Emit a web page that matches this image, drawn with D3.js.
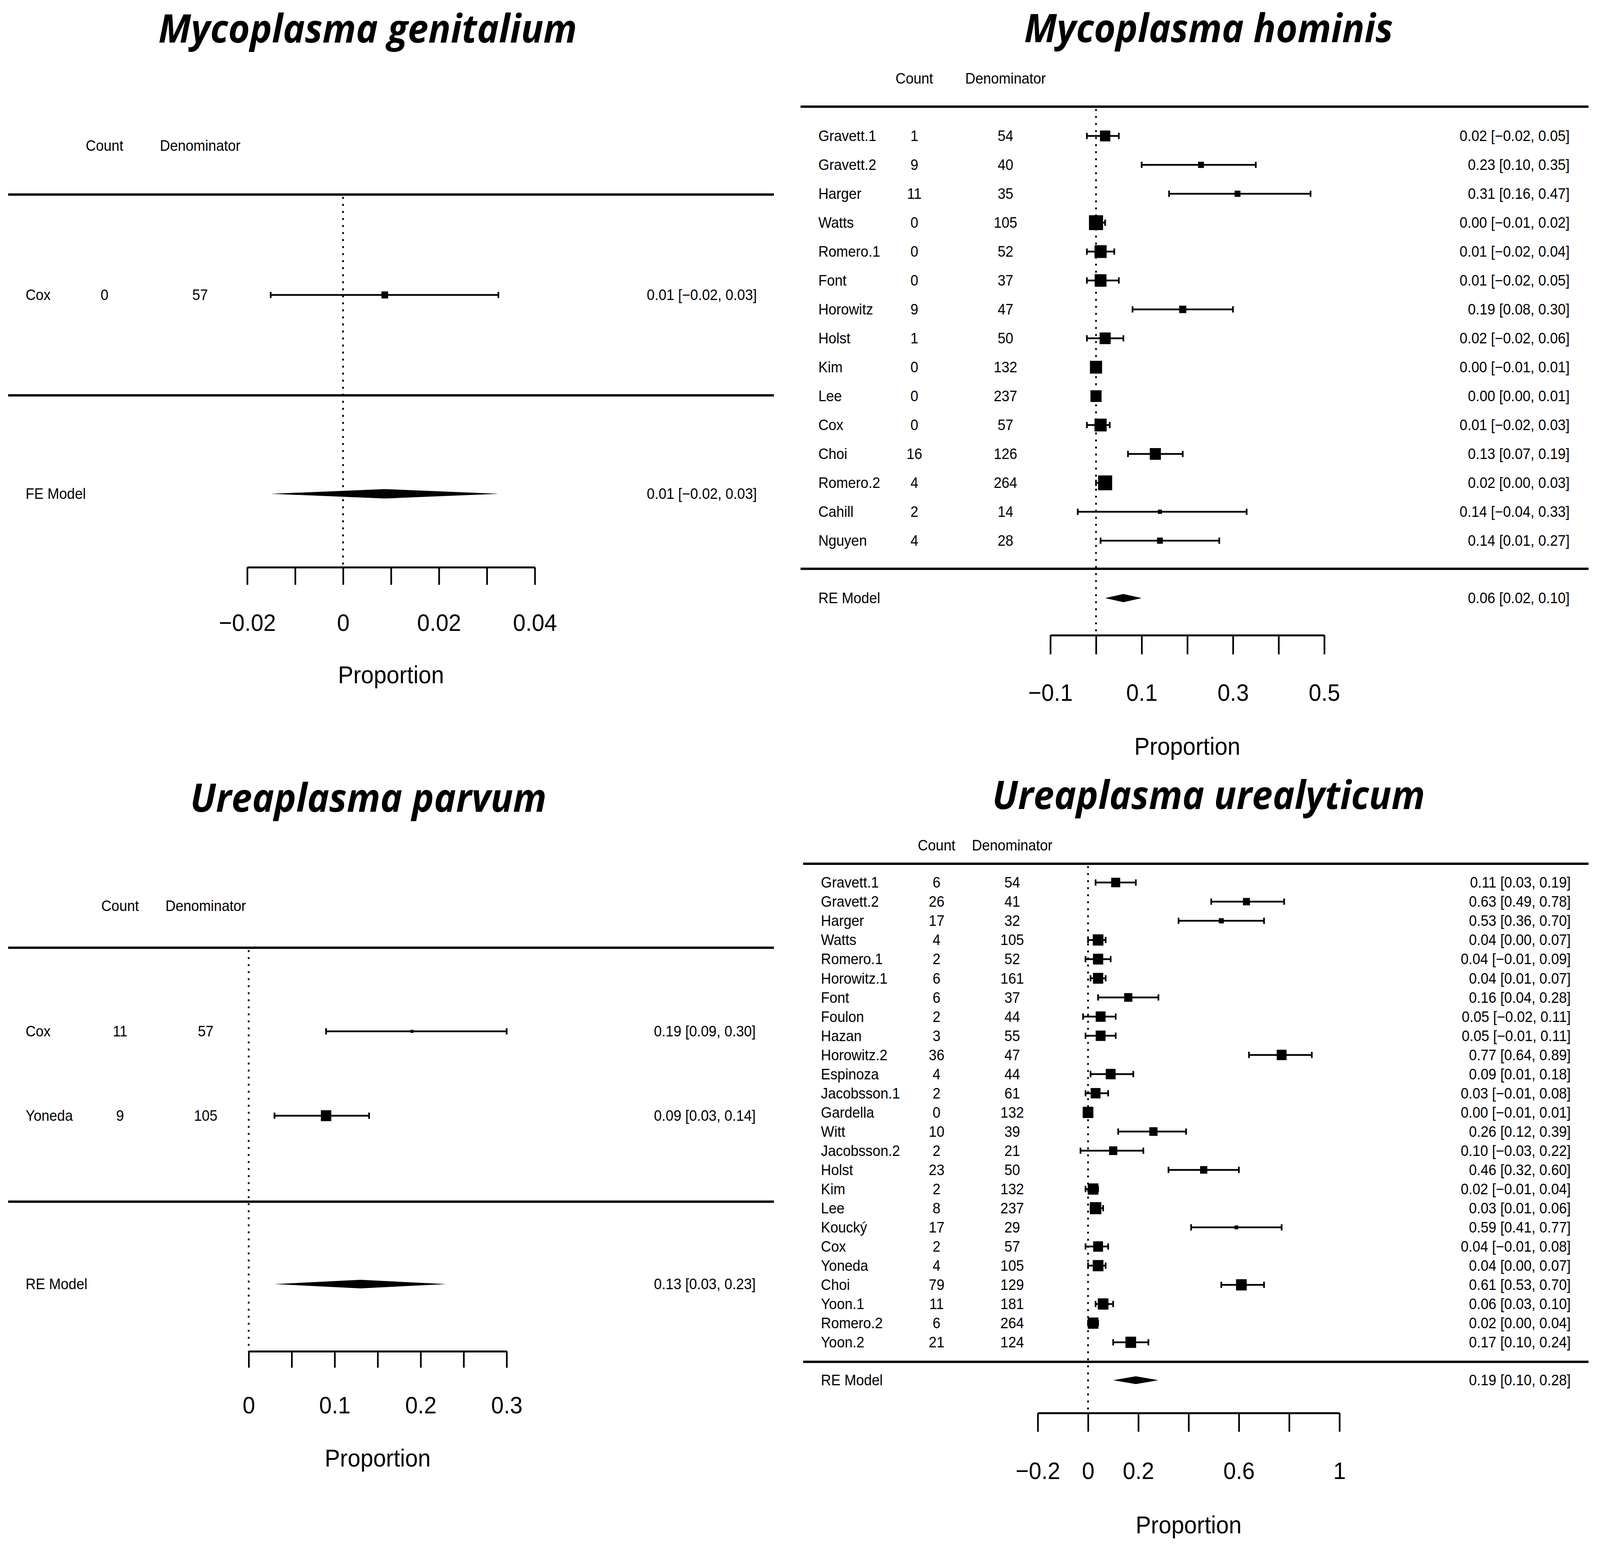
<!DOCTYPE html>
<html>
<head>
<meta charset="utf-8">
<script src="https://cdn.jsdelivr.net/npm/d3@7"></script>
<style>
  html, body { margin: 0; padding: 0; background: #fff; overflow: hidden; }
  #chart { display: block; width: 100vw; height: 100vh; }
  text { font-family: "Liberation Sans", Arial, sans-serif; fill: #000; }
  .title { font-family: "Open Sans", sans-serif; font-weight: 700; font-style: italic; }
</style>
</head>
<body>
<svg id="chart"></svg>
<script>
// ---- Mycoplasma genitalium ----
var mgStudies = ["Cox"],
    mgCount = [0],
    mgDenom = [57],
    mgEst = [0.0087],
    mgLo = [-0.0151],
    mgHi = [0.0324],
    mgWeight = [100],
    mgModel = ["FE Model", 0.0087, -0.0151, 0.0324],
    mgTicks = [-0.02, -0.01, 0, 0.01, 0.02, 0.03, 0.04],
    mgTickLabels = ["\u22120.02", "", "0", "", "0.02", "", "0.04"];

// ---- Mycoplasma hominis ----
var mhStudies = ["Gravett.1", "Gravett.2", "Harger", "Watts", "Romero.1", "Font", "Horowitz", "Holst",
                 "Kim", "Lee", "Cox", "Choi", "Romero.2", "Cahill", "Nguyen"],
    mhCount = [1, 9, 11, 0, 0, 0, 9, 1, 0, 0, 0, 16, 4, 2, 4],
    mhDenom = [54, 40, 35, 105, 52, 37, 47, 50, 132, 237, 57, 126, 264, 14, 28],
    mhEst = [0.02, 0.23, 0.31, 0.00, 0.01, 0.01, 0.19, 0.02, 0.00, 0.00, 0.01, 0.13, 0.02, 0.14, 0.14],
    mhLo = [-0.02, 0.10, 0.16, -0.01, -0.02, -0.02, 0.08, -0.02, -0.01, -0.002, -0.02, 0.07, 0.00, -0.04, 0.01],
    mhHi = [0.05, 0.35, 0.47, 0.02, 0.04, 0.05, 0.30, 0.06, 0.01, 0.01, 0.03, 0.19, 0.03, 0.33, 0.27],
    mhWeight = [7.0, 4.0, 4.0, 9.5, 8.2, 8.0, 4.8, 7.5, 8.2, 7.5, 8.2, 7.5, 9.5, 2.8, 4.0],
    mhModel = ["RE Model", 0.06, 0.02, 0.10],
    mhTicks = [-0.1, 0, 0.1, 0.2, 0.3, 0.4, 0.5],
    mhTickLabels = ["\u22120.1", "", "0.1", "", "0.3", "", "0.5"];

// ---- Ureaplasma parvum ----
var upStudies = ["Cox", "Yoneda"],
    upCount = [11, 9],
    upDenom = [57, 105],
    upEst = [0.19, 0.09],
    upLo = [0.09, 0.03],
    upHi = [0.30, 0.14],
    upWeight = [30, 70],
    upModel = ["RE Model", 0.13, 0.03, 0.23],
    upTicks = [0, 0.05, 0.1, 0.15, 0.2, 0.25, 0.3],
    upTickLabels = ["0", "", "0.1", "", "0.2", "", "0.3"];

// ---- Ureaplasma urealyticum ----
var uuStudies = ["Gravett.1", "Gravett.2", "Harger", "Watts", "Romero.1", "Horowitz.1", "Font", "Foulon",
                 "Hazan", "Horowitz.2", "Espinoza", "Jacobsson.1", "Gardella", "Witt", "Jacobsson.2",
                 "Holst", "Kim", "Lee", "Kouck\u00fd", "Cox", "Yoneda", "Choi", "Yoon.1", "Romero.2", "Yoon.2"],
    uuCount = [6, 26, 17, 4, 2, 6, 6, 2, 3, 36, 4, 2, 0, 10, 2, 23, 2, 8, 17, 2, 4, 79, 11, 6, 21],
    uuDenom = [54, 41, 32, 105, 52, 161, 37, 44, 55, 47, 44, 61, 132, 39, 21, 50, 132, 237, 29, 57, 105, 129, 181, 264, 124],
    uuEst = [0.11, 0.63, 0.53, 0.04, 0.04, 0.04, 0.16, 0.05, 0.05, 0.77, 0.09, 0.03, 0.00, 0.26, 0.10,
             0.46, 0.02, 0.03, 0.59, 0.04, 0.04, 0.61, 0.06, 0.02, 0.17],
    uuLo = [0.03, 0.49, 0.36, 0.00, -0.01, 0.01, 0.04, -0.02, -0.01, 0.64, 0.01, -0.01, -0.01, 0.12, -0.03,
            0.32, -0.01, 0.01, 0.41, -0.01, 0.00, 0.53, 0.03, 0.00, 0.10],
    uuHi = [0.19, 0.78, 0.70, 0.07, 0.09, 0.07, 0.28, 0.11, 0.11, 0.89, 0.18, 0.08, 0.01, 0.39, 0.22,
            0.60, 0.04, 0.06, 0.77, 0.08, 0.07, 0.70, 0.10, 0.04, 0.24],
    uuWeight = [3.8, 2.8, 1.8, 4.6, 4.4, 4.4, 3.4, 4.2, 4.2, 4.2, 4.2, 4.2, 4.6, 3.4, 3.4,
                2.9, 4.6, 5.0, 1.2, 4.2, 4.6, 4.6, 4.6, 4.6, 4.6],
    uuModel = ["RE Model", 0.19, 0.10, 0.28],
    uuTicks = [-0.2, 0, 0.2, 0.4, 0.6, 0.8, 1],
    uuTickLabels = ["\u22120.2", "0", "0.2", "", "0.6", "", "1"];

function rows(studies, count, denom, est, lo, hi, wt) {
  return studies.map(function(s, i) {
    return { study: s, count: count[i], denom: denom[i], est: est[i], lo: lo[i], hi: hi[i], wt: wt[i] };
  });
}

var panels = [
  { title: "Mycoplasma genitalium", data: rows(mgStudies, mgCount, mgDenom, mgEst, mgLo, mgHi, mgWeight),
    model: mgModel, ticks: mgTicks, tickLabels: mgTickLabels,
    titleX: 992, titleY: 109, headY: 373, labX: 69, cntX: 282, denX: 540, annX: 2042,
    lineX: [22, 2088], line1: 498, line2: 1012, rowY: [755, 755], modelY: 1264,
    axisY: 1452, axisX: [667, 1443], tickLen: 45, tickLabY: 1594, propY: 1727, dh: 12, ps: [18, 18] },
  { title: "Mycoplasma hominis", data: rows(mhStudies, mhCount, mhDenom, mhEst, mhLo, mhHi, mhWeight),
    model: mhModel, ticks: mhTicks, tickLabels: mhTickLabels,
    titleX: 3261, titleY: 108, headY: 201, labX: 2208, cntX: 2467, denX: 2713, annX: 4235,
    lineX: [2160, 4286], line1: 273, line2: 1456, rowY: [348, 1384], modelY: 1531,
    axisY: 1626, axisX: [2834, 3573], tickLen: 49, tickLabY: 1773, propY: 1910, dh: 10.5, ps: [11, 38] },
  { title: "Ureaplasma parvum", data: rows(upStudies, upCount, upDenom, upEst, upLo, upHi, upWeight),
    model: upModel, ticks: upTicks, tickLabels: upTickLabels,
    titleX: 994, titleY: 2078, headY: 2319, labX: 69, cntX: 324, denX: 555, annX: 2039,
    lineX: [22, 2088], line1: 2426, line2: 3076, rowY: [2640, 2856], modelY: 3287,
    axisY: 3459, axisX: [671, 1367], tickLen: 42, tickLabY: 3597, propY: 3732, dh: 11, ps: [8, 28] },
  { title: "Ureaplasma urealyticum", data: rows(uuStudies, uuCount, uuDenom, uuEst, uuLo, uuHi, uuWeight),
    model: uuModel, ticks: uuTicks, tickLabels: uuTickLabels,
    titleX: 3261, titleY: 2071, headY: 2164, labX: 2215, cntX: 2527, denX: 2731, annX: 4238,
    lineX: [2167, 4286], line1: 2211, line2: 3486, rowY: [2259, 3436], modelY: 3533,
    axisY: 3617, axisX: [2800, 3614], tickLen: 48, tickLabY: 3765, propY: 3903, dh: 10, ps: [10, 31] }
];

var W = 4317, H = 3960;
// fill the whole viewport with the 4317x3960 drawing
var svg = d3.select("#chart").attr("viewBox", "0 0 " + W + " " + H)
  .attr("preserveAspectRatio", "none");
svg.append("rect").attr("width", W).attr("height", H).attr("fill", "#fff");

var fmt = d3.format(".2f");
var small = 38;

panels.forEach(function(p) {
  var g = svg.append("g");
  var x = d3.scaleLinear().domain([p.ticks[0], p.ticks[p.ticks.length - 1]]).range(p.axisX);
  var y = d3.scalePoint().domain(p.data.map(function(d) { return d.study; })).range(p.rowY);
  var ext = d3.extent(p.data, function(d) { return d.wt; });
  var size = ext[0] === ext[1]
    ? function() { return p.ps[1]; }
    : d3.scaleLinear().domain(ext).range(p.ps);

  // title
  g.append("text").attr("class", "title")
    .attr("x", p.titleX).attr("y", p.titleY)
    .attr("text-anchor", "middle").attr("font-size", 100)
    .text(p.title);

  // column headers
  g.append("text").attr("x", p.cntX).attr("y", p.headY).attr("dy", "0.35em")
    .attr("text-anchor", "middle").attr("font-size", small).text("Count");
  g.append("text").attr("x", p.denX).attr("y", p.headY).attr("dy", "0.35em")
    .attr("text-anchor", "middle").attr("font-size", small).text("Denominator");

  // horizontal rules
  [p.line1, p.line2].forEach(function(ly) {
    g.append("line").attr("x1", p.lineX[0]).attr("x2", p.lineX[1])
      .attr("y1", ly).attr("y2", ly).attr("stroke", "#000").attr("stroke-width", 6);
  });

  // reference line at zero
  g.append("line").attr("x1", x(0)).attr("x2", x(0))
    .attr("y1", p.line1 + 6).attr("y2", p.axisY)
    .attr("stroke", "#000").attr("stroke-width", 4.5).attr("stroke-dasharray", "5,13");

  // study rows
  var row = g.selectAll("g.row").data(p.data).enter().append("g").attr("class", "row")
    .attr("transform", function(d) { return "translate(0," + y(d.study) + ")"; });

  row.append("text").attr("x", p.labX).attr("dy", "0.35em").attr("font-size", small)
    .text(function(d) { return d.study; });
  row.append("text").attr("x", p.cntX).attr("dy", "0.35em").attr("text-anchor", "middle")
    .attr("font-size", small).text(function(d) { return d.count; });
  row.append("text").attr("x", p.denX).attr("dy", "0.35em").attr("text-anchor", "middle")
    .attr("font-size", small).text(function(d) { return d.denom; });
  row.append("text").attr("x", p.annX).attr("dy", "0.35em").attr("text-anchor", "end")
    .attr("font-size", small)
    .text(function(d) { return fmt(d.est) + " [" + fmt(d.lo) + ", " + fmt(d.hi) + "]"; });

  row.append("line").attr("x1", function(d) { return x(d.lo); }).attr("x2", function(d) { return x(d.hi); })
    .attr("stroke", "#000").attr("stroke-width", 4.5);
  row.append("line").attr("x1", function(d) { return x(d.lo); }).attr("x2", function(d) { return x(d.lo); })
    .attr("y1", -8).attr("y2", 8).attr("stroke", "#000").attr("stroke-width", 4.5);
  row.append("line").attr("x1", function(d) { return x(d.hi); }).attr("x2", function(d) { return x(d.hi); })
    .attr("y1", -8).attr("y2", 8).attr("stroke", "#000").attr("stroke-width", 4.5);
  row.append("rect")
    .attr("x", function(d) { return x(d.est) - size(d.wt) / 2; })
    .attr("y", function(d) { return -size(d.wt) / 2; })
    .attr("width", function(d) { return size(d.wt); })
    .attr("height", function(d) { return size(d.wt); })
    .attr("fill", "#000");

  // summary model
  var m = p.model;
  g.append("text").attr("x", p.labX).attr("y", p.modelY).attr("dy", "0.35em")
    .attr("font-size", small).text(m[0]);
  g.append("text").attr("x", p.annX).attr("y", p.modelY).attr("dy", "0.35em")
    .attr("text-anchor", "end").attr("font-size", small)
    .text(fmt(m[1]) + " [" + fmt(m[2]) + ", " + fmt(m[3]) + "]");
  g.append("polygon")
    .attr("points", [[x(m[2]), p.modelY], [x(m[1]), p.modelY - p.dh],
                     [x(m[3]), p.modelY], [x(m[1]), p.modelY + p.dh]].join(" "))
    .attr("fill", "#000");

  // axis
  var axis = d3.axisBottom(x).tickValues(p.ticks).tickSize(p.tickLen).tickSizeOuter(0)
    .tickFormat(function(d, i) { return p.tickLabels[i]; });
  var ag = g.append("g").attr("transform", "translate(0," + p.axisY + ")").call(axis);
  ag.select(".domain").attr("stroke", "#000").attr("stroke-width", 5);
  ag.selectAll(".tick line").attr("stroke", "#000").attr("stroke-width", 4.5);
  ag.selectAll(".tick text").attr("y", p.tickLabY - p.axisY).attr("dy", "0.35em")
    .attr("font-size", 61).attr("font-family", "'Liberation Sans', Arial, sans-serif").attr("fill", "#000");

  g.append("text").attr("x", (p.axisX[0] + p.axisX[1]) / 2).attr("y", p.propY).attr("dy", "0.35em")
    .attr("text-anchor", "middle").attr("font-size", 62).text("Proportion");
});
</script>
</body>
</html>
